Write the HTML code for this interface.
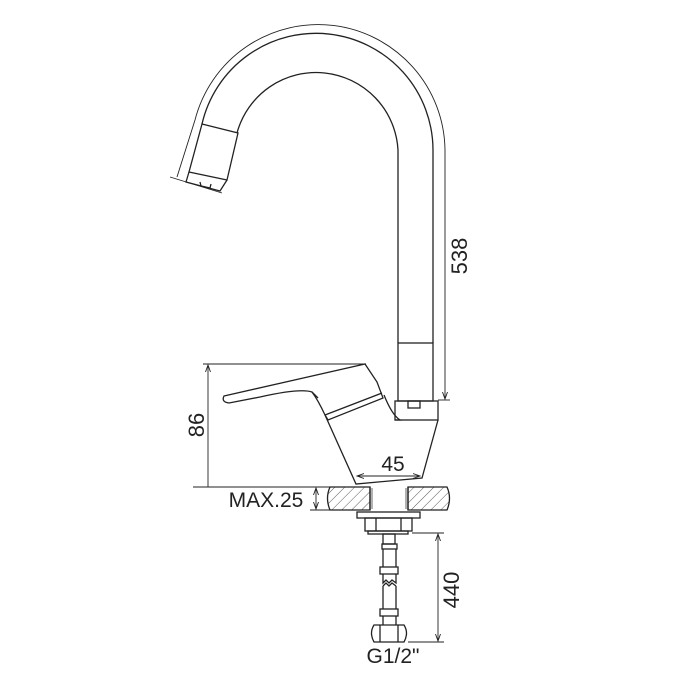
<!DOCTYPE html>
<html><head><meta charset="utf-8"><style>
html,body{margin:0;padding:0;background:#fff;}
svg{display:block;}
text{font-family:"Liberation Sans",Arial,sans-serif;fill:#222;}
</style></head><body>
<svg width="700" height="700" viewBox="0 0 700 700" xmlns="http://www.w3.org/2000/svg">
<defs>
<pattern id="h" width="7" height="7" patternUnits="userSpaceOnUse" patternTransform="rotate(45)">
<line x1="0" y1="0" x2="0" y2="7" stroke="#333" stroke-width="0.8"/></pattern>
<marker id="a" markerWidth="8" markerHeight="8" refX="7" refY="4" orient="auto" markerUnits="userSpaceOnUse"><path d="M0,1.5 L7,4 L0,6.5" fill="none" stroke="#222" stroke-width="0.9"/></marker>
</defs>
<g fill="none" stroke="#222" stroke-width="1.3">
<path d="M202,124 A117,117 0 0 1 433,150 L433,343"/>
<path d="M237,133 A82,82 0 0 1 398,150 L398,343"/>
<path d="M202,124 L238,133 L227,180 L189,172 Z"/>
<path d="M189,172 L186,182 L220,191 L227,180"/>
<path d="M200,182 L201,186 L210,188 L211,184"/>
<rect x="398" y="343" width="35" height="58"/>
<rect x="395" y="401" width="43" height="19"/>
<rect x="408" y="401" width="12" height="7"/>
<path d="M438,420 L422,478 L356,484 L325,415"/>
<path d="M384,395 Q392,415 400,420 L395,420"/>
<path d="M224,396 L365,364 L377,382 L383,398 L328,420 L325,415 Q318,400 312,392 Q300,388 260,397 L229,403 Q221,402 224,396 Z"/>
<path d="M325,415 L382,393"/>
<path d="M312,392 L318,398"/>
<rect x="357" y="512" width="63" height="6"/>
<rect x="365" y="518" width="47" height="13"/>
<line x1="376" y1="518" x2="376" y2="531"/><line x1="401" y1="518" x2="401" y2="531"/>
<rect x="368" y="531" width="40" height="3"/>
<rect x="383" y="534" width="12" height="10"/>
<rect x="382" y="544" width="15" height="5"/>
<line x1="383" y1="549" x2="383" y2="567"/><line x1="396" y1="549" x2="396" y2="567"/>
<rect x="380" y="567" width="18" height="7"/>
<path d="M383,574 L383,583 L386,580 L389,583 L392,580 L396,583 L396,574"/>
<path d="M383,586 L386,583 L389,586 L392,583 L396,586"/>
<line x1="383" y1="586" x2="383" y2="609"/><line x1="396" y1="586" x2="396" y2="609"/>
<rect x="380" y="609" width="18" height="7"/>
<line x1="383" y1="616" x2="383" y2="625"/><line x1="396" y1="616" x2="396" y2="625"/>
<path d="M374,625 L404,625 Q409,633 404,642 L374,642 Q369,633 374,625 Z"/>
<line x1="380" y1="625" x2="380" y2="642"/><line x1="398" y1="625" x2="398" y2="642"/>
<path d="M330,487 L370,487 L370,510 L330,510 Q325,498 330,487 Z" fill="url(#h)"/>
<path d="M408,487 L447,487 Q452,498 447,510 L408,510 Z" fill="url(#h)"/>
<line x1="370" y1="487" x2="370" y2="510"/><line x1="408" y1="487" x2="408" y2="510"/>
</g>
<g fill="none" stroke="#222" stroke-width="0.7">
<line x1="372" y1="488" x2="372" y2="509"/><line x1="406" y1="488" x2="406" y2="509"/>
</g>
<g fill="none" stroke="#222" stroke-width="0.9">
<path d="M177,177 L195,120 A127,127 0 0 1 445,150 L445,399" marker-end="url(#a)"/>
<line x1="170" y1="177" x2="222" y2="193"/>
<line x1="438" y1="400" x2="450" y2="400"/>
<line x1="203" y1="364" x2="366" y2="364"/>
<line x1="208" y1="487" x2="208" y2="365" marker-end="url(#a)"/>
<line x1="193" y1="487" x2="330" y2="487"/>
<line x1="388" y1="476" x2="357" y2="476" marker-end="url(#a)"/>
<line x1="388" y1="476" x2="420" y2="476" marker-end="url(#a)"/>
<line x1="316" y1="498" x2="316" y2="488" marker-end="url(#a)"/>
<line x1="316" y1="498" x2="316" y2="509" marker-end="url(#a)"/>
<line x1="310" y1="510" x2="330" y2="510"/>
<line x1="412" y1="533" x2="444" y2="533"/>
<line x1="408" y1="642" x2="444" y2="642"/>
<line x1="438" y1="588" x2="438" y2="534" marker-end="url(#a)"/>
<line x1="438" y1="588" x2="438" y2="641" marker-end="url(#a)"/>
</g>
<text x="0" y="0" font-size="22" transform="translate(467,256) rotate(-90)" text-anchor="middle">538</text>
<text x="0" y="0" font-size="22" transform="translate(204,425) rotate(-90)" text-anchor="middle">86</text>
<text x="393" y="471" font-size="21" text-anchor="middle">45</text>
<text x="266" y="507" font-size="21" text-anchor="middle">MAX.25</text>
<text x="0" y="0" font-size="22" transform="translate(459,590) rotate(-90)" text-anchor="middle">440</text>
<text x="393" y="663" font-size="21" text-anchor="middle">G1/2"</text>
</svg>
</body></html>
